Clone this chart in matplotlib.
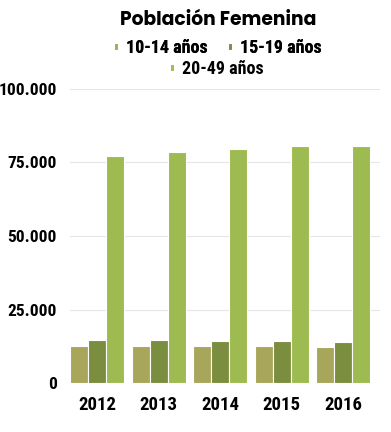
import matplotlib
matplotlib.use("Agg")
import matplotlib.pyplot as plt
import numpy as np
from matplotlib.ticker import FuncFormatter
from matplotlib.font_manager import FontProperties

years = ["2012", "2013", "2014", "2015", "2016"]
series_names = ["10-14 años", "15-19 años", "20-49 años"]
v_10_14 = [12760, 12760, 12660, 12660, 12320]
v_15_19 = [14590, 14590, 14350, 14350, 14120]
v_20_49 = [77230, 78380, 79500, 80420, 80420]
colors = ["#A8A65A", "#7B8D3F", "#9DBB50"]
yticks = [0, 25000, 50000, 75000, 100000]

fig = plt.figure(figsize=(3.91, 4.32), dpi=100)
ax = fig.add_axes([0.179, 0.1127, 0.793, 0.6823])

x = np.arange(len(years))
w = 0.293
handles = []
for i, (vals, c, name) in enumerate(zip([v_10_14, v_15_19, v_20_49], colors, series_names)):
    b = ax.bar(x + (i - 1) * w, vals, width=w, color=c, edgecolor="white",
               linewidth=0.8, label=name, zorder=3)
    handles.append(b)

ax.set_ylim(0, 100000)
ax.set_xlim(-0.44, 4.6)
ax.set_yticks(yticks)
ax.yaxis.set_major_formatter(FuncFormatter(lambda v, p: f"{int(v):,}".replace(",", ".")))
ax.set_xticks(x)
ax.set_xticklabels(years)
ax.grid(axis="y", color="#E6E6E6", linewidth=0.8, zorder=0)
for s in ax.spines.values():
    s.set_visible(False)
ax.tick_params(length=0)
cond = ["Roboto Condensed", "DejaVu Sans"]
for lab in ax.get_yticklabels():
    lab.set_fontproperties(FontProperties(family=cond, weight="bold", size=12.5))
for lab in ax.get_xticklabels():
    lab.set_fontproperties(FontProperties(family=cond, weight="bold", size=13.5))
ax.tick_params(axis="y", pad=9.4)
ax.tick_params(axis="x", pad=9)

fig.text(0.557, 0.953, "Población Femenina", ha="center", va="center",
         fontproperties=FontProperties(family=["Poppins", "DejaVu Sans"], weight=700, size=13.5))

legfont = FontProperties(family=cond, weight="bold", size=13)
leg1 = fig.legend(handles[:2], series_names[:2], loc="center", bbox_to_anchor=(0.557, 0.888),
                  ncol=2, frameon=False, prop=legfont, handlelength=0.22, handleheight=0.22,
                  handletextpad=0.45, columnspacing=1.1, borderpad=0)
leg2 = fig.legend(handles[2:], series_names[2:], loc="center", bbox_to_anchor=(0.555, 0.84),
                  ncol=1, frameon=False, prop=legfont, handlelength=0.22, handleheight=0.22,
                  handletextpad=0.45, borderpad=0)
fig.add_artist(leg1)

fig.savefig("out.png", dpi=100)
